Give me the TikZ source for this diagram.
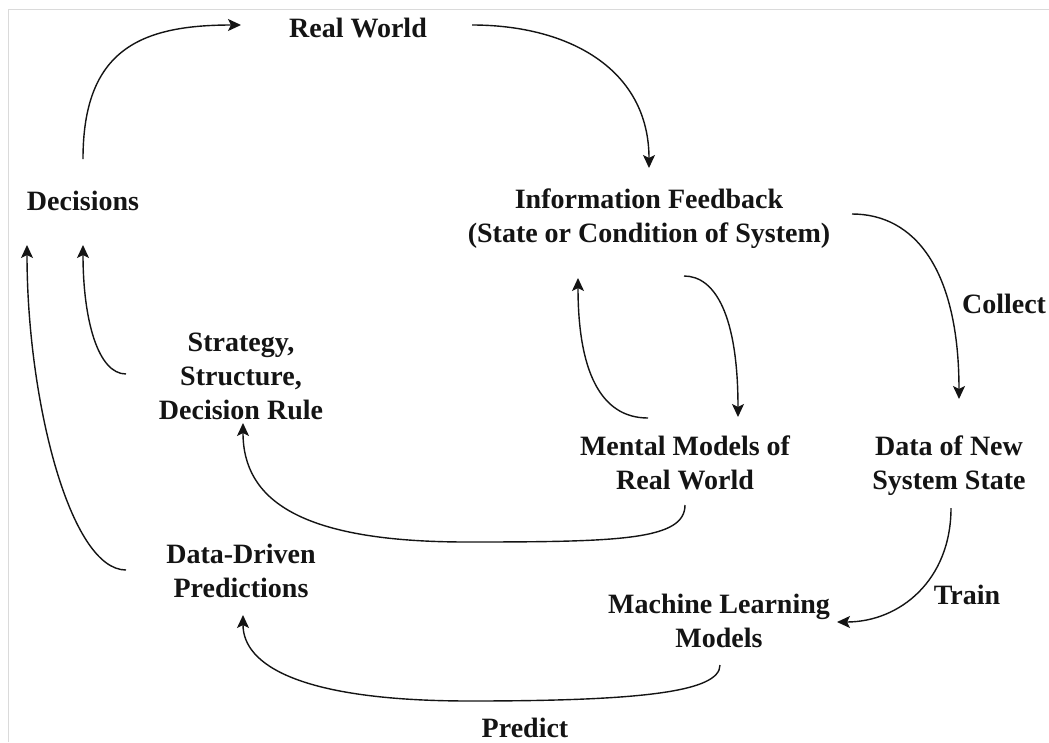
\documentclass[tikz,border=0pt]{standalone}
\usepackage{fontspec}
\setmainfont{Liberation Serif}
\usetikzlibrary{arrows.meta}
\definecolor{framegray}{RGB}{218,218,218}
\definecolor{ink}{RGB}{20,20,20}
\begin{document}
\begin{tikzpicture}[x=1pt,y=-1pt,
  lbl/.style={inner sep=0pt, outer sep=0pt, anchor=base, align=center,
    font=\fontsize{28}{33.6}\selectfont\bfseries, text=ink},
  flow/.style={draw=ink, line width=1.4pt,
    -{Stealth[length=13pt,width=12pt,inset=3pt]}}]
\useasboundingbox (0,0) rectangle (1049,742);
\fill[white] (0,0) rectangle (1049,742);
\draw[framegray, line width=1pt] (8,742) -- (8,9) -- (1049,9);

% base anchor = baseline of the last line
\node[lbl] (rw) at (358,37) {Real World};
\node[lbl] (dec) at (83,210) {Decisions};
\node[lbl] (info) at (649,242) {Information Feedback\\(State or Condition of System)};
\node[lbl] (strat) at (241,419) {Strategy,\\Structure,\\Decision Rule};
\node[lbl] (mm) at (685,489) {Mental Models of\\Real World};
\node[lbl] (data) at (949,489) {Data of New\\System State};
\node[lbl] (ddp) at (241,597) {Data-Driven\\Predictions};
\node[lbl] (ml) at (719,647) {Machine Learning\\Models};
\node[lbl] (collect) at (1004,313) {Collect};
\node[lbl] (train) at (967,604) {Train};
\node[lbl] (predict) at (525,737) {Predict};

\draw[flow] ([shift={(0,-51)}]dec.base) .. controls +(0,-109) and +(-101,0) .. ([shift={(-117,-12)}]rw.base);
\draw[flow] ([shift={(114,-12)}]rw.base) .. controls +(98,0) and +(0,-98) .. ([shift={(0,-74)}]info.base);
\draw[flow] ([shift={(203,-28)}]info.base) .. controls +(63,0) and +(0,-129) .. ([shift={(10,-90)}]data.base);
\draw[flow] ([shift={(2,19)}]data.base) .. controls +(0,72) and +(63,0) .. ([shift={(118,-25)}]ml.base);
\draw[flow] ([shift={(1,18)}]ml.base) .. controls +(0,27) and +(170,0) .. (470,701) .. controls +(-170,0) and +(0,50) .. ([shift={(2,18)}]ddp.base);
\draw[flow] ([shift={(0,16)}]mm.base) .. controls +(0,35) and +(153,0) .. (467,542) .. controls +(-167,0) and +(0,77) .. ([shift={(2,4)}]strat.base);
\draw[flow] ([shift={(35,34)}]info.base) .. controls +(31,0) and +(0,-102) .. ([shift={(53,-72)}]mm.base);
\draw[flow] ([shift={(-37,-71)}]mm.base) .. controls +(-48,0) and +(0,92) .. ([shift={(-71,36)}]info.base);
\draw[flow] ([shift={(-115,-45)}]strat.base) .. controls +(-28,0) and +(0,75) .. ([shift={(0,35)}]dec.base);
\draw[flow] ([shift={(-115,-27)}]ddp.base) .. controls +(-56,0) and +(0,155) .. ([shift={(-56,35)}]dec.base);
\end{tikzpicture}
\end{document}
